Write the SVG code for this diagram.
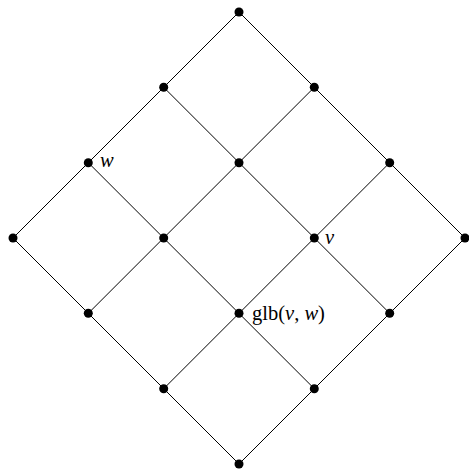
<svg xmlns="http://www.w3.org/2000/svg" width="469" height="471" viewBox="0 0 469 471">
<style>
.e{stroke:#000;stroke-width:1;fill:none}
.d{fill:#000}
.t{font-family:"Liberation Serif","DejaVu Serif",serif;font-size:20.5px;fill:#000}
.i{font-style:italic}
</style>
<rect width="469" height="471" fill="#fff"/>
<g id="edges">
<line class="e" x1="239" y1="464" x2="465" y2="238"/>
<line class="e" x1="163.7" y1="388.7" x2="389.7" y2="162.7"/>
<line class="e" x1="88.3" y1="313.3" x2="314.3" y2="87.3"/>
<line class="e" x1="13" y1="238" x2="239" y2="12"/>
<line class="e" x1="239" y1="464" x2="13" y2="238"/>
<line class="e" x1="314.3" y1="388.7" x2="88.3" y2="162.7"/>
<line class="e" x1="389.7" y1="313.3" x2="163.7" y2="87.3"/>
<line class="e" x1="465" y1="238" x2="239" y2="12"/>
</g>
<g id="n00"><circle class="d" cx="239" cy="464" r="4.5"/></g>
<g id="n10"><circle class="d" cx="314.3" cy="388.7" r="4.5"/></g>
<g id="n20"><circle class="d" cx="389.7" cy="313.3" r="4.5"/></g>
<g id="n30"><circle class="d" cx="465" cy="238" r="4.5"/></g>
<g id="n01"><circle class="d" cx="163.7" cy="388.7" r="4.5"/></g>
<g id="n11"><circle class="d" cx="239" cy="313.3" r="4.5"/><text class="t" x="252" y="320">glb(<tspan class="i">v</tspan>, <tspan class="i">w</tspan>)</text></g>
<g id="n21"><circle class="d" cx="314.3" cy="238" r="4.5"/><text class="t i" x="325" y="244">v</text></g>
<g id="n31"><circle class="d" cx="389.7" cy="162.7" r="4.5"/></g>
<g id="n02"><circle class="d" cx="88.3" cy="313.3" r="4.5"/></g>
<g id="n12"><circle class="d" cx="163.7" cy="238" r="4.5"/></g>
<g id="n22"><circle class="d" cx="239" cy="162.7" r="4.5"/></g>
<g id="n32"><circle class="d" cx="314.3" cy="87.3" r="4.5"/></g>
<g id="n03"><circle class="d" cx="13" cy="238" r="4.5"/></g>
<g id="n13"><circle class="d" cx="88.3" cy="162.7" r="4.5"/><text class="t i" x="100" y="167">w</text></g>
<g id="n23"><circle class="d" cx="163.7" cy="87.3" r="4.5"/></g>
<g id="n33"><circle class="d" cx="239" cy="12" r="4.5"/></g>
</svg>
